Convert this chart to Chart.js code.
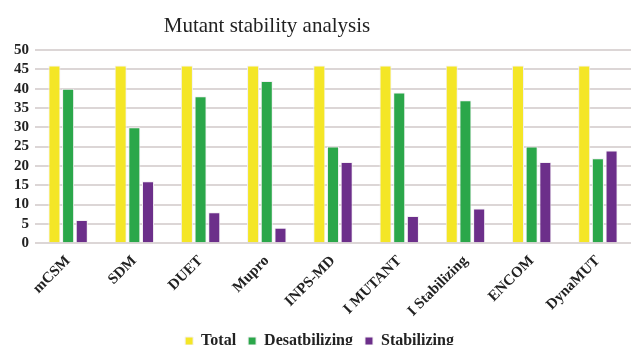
<!DOCTYPE html>
<html>
<head>
    <title>Mutant stability analysis</title>
</head>
<style>
  body {
    margin: 0;
    background: white;
    overflow: hidden;
  }
  .wrap {
    width: 631px;
    height: 359px;
  }
</style>
<body>
<div class="wrap">
    <canvas id="myChart"></canvas>
</div>
<script src="https://cdn.jsdelivr.net/npm/chart.js"></script>
<script>
  // dane
  const chartTitle = 'Mutant stability analysis';
  const tools = ['mCSM', 'SDM', 'DUET', 'Mupro', 'INPS-MD', 'I MUTANT', 'I Stabilizing', 'ENCOM', 'DynaMUT'];
  const total = [46, 46, 46, 46, 46, 46, 46, 46, 46];
  const desatbilizing = [40, 30, 38, 42, 25, 39, 37, 25, 22];
  const stabilizing = [6, 16, 8, 4, 21, 7, 9, 21, 24];

  const serif = '"Liberation Serif", "Times New Roman", serif';

  // tytuł rysowany ręcznie - w oryginale jest przesunięty w lewo
  const titlePlugin = {
    id: 'leftTitle',
    afterDraw(chart) {
      const c = chart.ctx;
      c.save();
      c.font = '21px ' + serif;
      c.fillStyle = '#222';
      c.textAlign = 'center';
      c.textBaseline = 'alphabetic';
      c.fillText(chartTitle, 267, 32);
      c.restore();
    }
  };

  let chartData = {
    labels: tools,
    datasets: [
      { label: 'Total', data: total, backgroundColor: '#f4e626' },
      { label: 'Desatbilizing', data: desatbilizing, backgroundColor: '#2ba74a' },
      { label: 'Stabilizing', data: stabilizing, backgroundColor: '#6c2f8a' }
    ]
  };

  let chartOptions = {
    responsive: true,
    maintainAspectRatio: false,
    animation: false,
    datasets: {
      bar: {
        categoryPercentage: 0.62,
        barPercentage: 0.88,
        borderColor: '#f3f0f3',
        borderWidth: 1
      }
    },
    layout: {
      padding: { left: 8, right: 0, top: 50, bottom: 0 }
    },
    plugins: {
      legend: {
        position: 'bottom',
        labels: {
          color: '#222',
          boxWidth: 8,
          boxHeight: 8,
          padding: 12,
          font: { family: serif, size: 16, weight: 'bold' }
        }
      },
      tooltip: { enabled: false }
    },
    scales: {
      x: {
        grid: { display: false },
        border: { display: false },
        ticks: {
          color: '#222',
          maxRotation: 45,
          minRotation: 45,
          autoSkip: false,
          padding: 1,
          font: { family: serif, size: 15, weight: 'bold' }
        }
      },
      y: {
        min: 0,
        max: 50,
        grid: { color: '#dcd6d6', lineWidth: 2, drawTicks: false },
        border: { display: false },
        ticks: {
          stepSize: 5,
          autoSkip: false,
          color: '#222',
          padding: 6,
          font: { family: serif, size: 15, weight: 'bold' }
        }
      }
    }
  };

  const ctx = document.getElementById('myChart');
  new Chart(ctx, {
    type: 'bar',
    data: chartData,
    options: chartOptions,
    plugins: [titlePlugin]
  });
</script>
</body>
</html>
